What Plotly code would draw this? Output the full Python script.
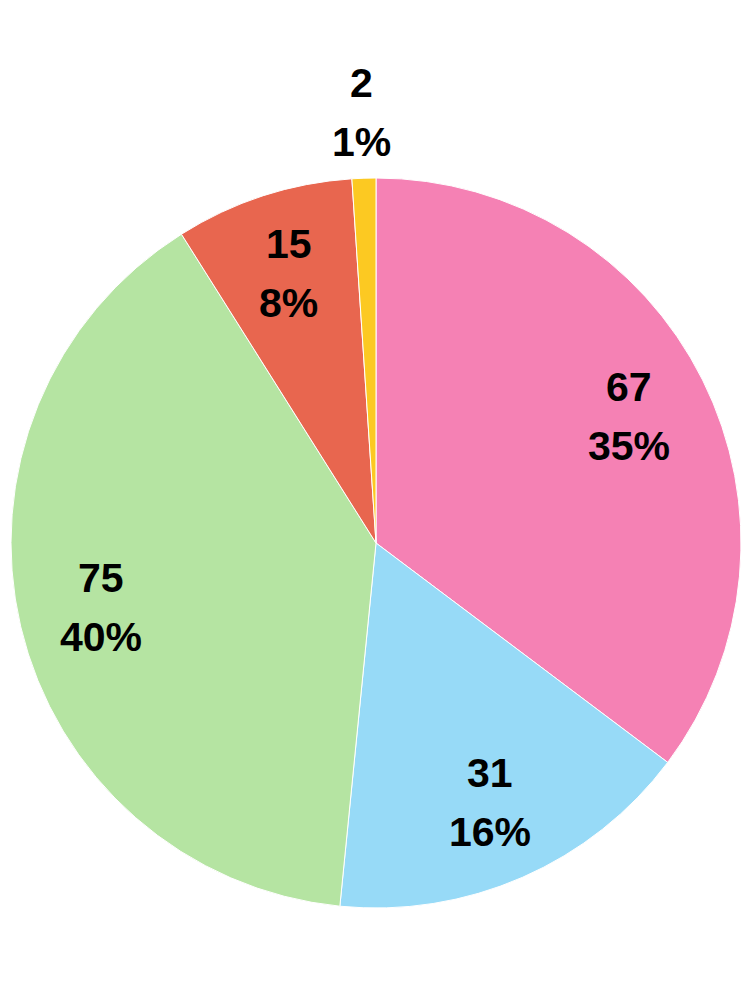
import math
import plotly.graph_objects as go

categories = ["A", "B", "C", "D", "E"]
values = [67, 31, 75, 15, 2]
percent_labels = ["35%", "16%", "40%", "8%", "1%"]
colors = ["#F581B4", "#97DAF7", "#B5E4A2", "#E8664F", "#FCC922"]

# page geometry (the html body adds an 8px margin around the figure)
PAGE_OFF = 8
W, H = 752 - 2 * PAGE_OFF, 990 - 2 * PAGE_OFF
cx, cy, R = 376 - PAGE_OFF, 543 - PAGE_OFF, 365  # pie centre / radius in figure px

FONT = dict(family="Liberation Sans", size=41, color="black", weight="bold")
LINE_GAP = 59

fig = go.Figure(go.Pie(
    labels=categories,
    values=values,
    sort=False,
    direction="clockwise",
    rotation=0,
    marker=dict(colors=colors, line=dict(color="white", width=1)),
    textinfo="none",
    showlegend=False,
    hoverinfo="label+value+percent",
    domain=dict(x=[(cx - R) / W, (cx + R) / W], y=[(H - cy - R) / H, (H - cy + R) / H]),
    automargin=False,
))

# labels at the bisector of each slice; very small slices get their label outside
total = sum(values)
cum = 0
annotations = []
for v, pct in zip(values, percent_labels):
    mid = (cum + v / 2) / total * 2 * math.pi
    cum += v
    frac = v / total
    rr = R * 0.775 if frac >= 0.03 else R * 1.18
    px = cx + rr * math.sin(mid)
    py = cy - rr * math.cos(mid)
    xp, yp = px / W, 1 - py / H
    for txt, shift in ((str(v), LINE_GAP / 2), (pct, -LINE_GAP / 2)):
        annotations.append(dict(
            x=xp, y=yp, xref="paper", yref="paper", text=txt, showarrow=False,
            xanchor="center", yanchor="middle", yshift=shift, font=FONT,
        ))

fig.update_layout(
    width=W, height=H,
    margin=dict(l=0, r=0, t=0, b=0),
    paper_bgcolor="white",
    plot_bgcolor="white",
    annotations=annotations,
)

fig.write_html("out.html")
